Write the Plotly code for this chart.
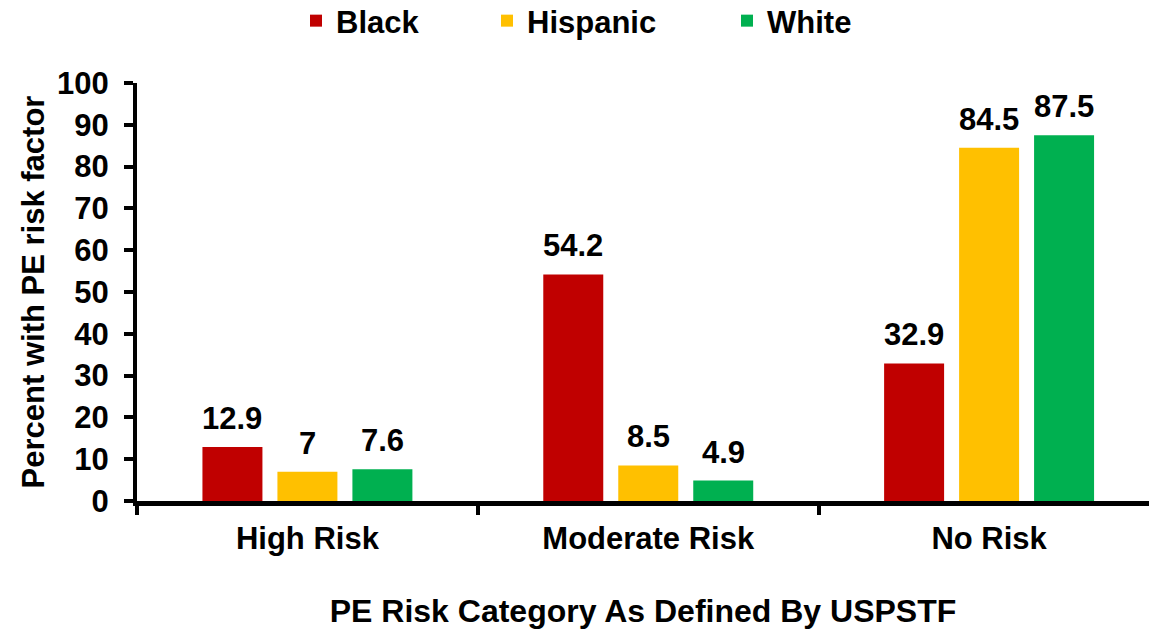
import plotly.graph_objects as go

# Share of patients with a preeclampsia (PE) risk factor, by race
categories = ["High Risk", "Moderate Risk", "No Risk"]
black = [12.9, 54.2, 32.9]
hispanic = [7.0, 8.5, 84.5]
white = [7.6, 4.9, 87.5]
series_names = ["Black", "Hispanic", "White"]
y_ticks = [0, 10, 20, 30, 40, 50, 60, 70, 80, 90, 100]

colors = ["#C00000", "#FFC000", "#00B050"]
FONT = "Liberation Sans, Arial, sans-serif"

W, H = 1149, 633
L, R, T, B = 137, 0, 83, 132
plot_w = W - L - R
plot_h = H - T - B

BARGAP = 0.34
BARGROUPGAP = 0.2
slot = (1 - BARGAP) / 3

fig = go.Figure()
legend_left_px = [296, 487, 727]
for i, (name, vals) in enumerate(zip(series_names, [black, hispanic, white])):
    lg = "legend" if i == 0 else f"legend{i + 1}"
    fig.add_trace(go.Bar(
        x=categories, y=vals, name=name,
        marker=dict(color=colors[i], line=dict(width=0)),
        legend=lg,
    ))
    # value labels above each bar
    offset = (i - 1) * slot
    for j, v in enumerate(vals):
        fig.add_annotation(
            x=j + offset, y=v, xref="x", yref="y",
            text=f"{v:g}", showarrow=False,
            yanchor="bottom", yshift=9,
            font=dict(family=FONT, size=31, color="black", weight="bold"),
        )

legend_common = dict(
    orientation="h", yanchor="middle", xanchor="left",
    bgcolor="rgba(0,0,0,0)", borderwidth=0,
    font=dict(family=FONT, size=31, color="black", weight="bold"),
)
y_leg = (H - B - 21) / plot_h
layout_legends = {}
for i, px in enumerate(legend_left_px):
    key = "legend" if i == 0 else f"legend{i + 1}"
    layout_legends[key] = dict(x=(px - L) / plot_w, y=y_leg, **legend_common)

fig.update_layout(
    width=W, height=H,
    margin=dict(l=L, r=R, t=T, b=B, autoexpand=False),
    paper_bgcolor="white", plot_bgcolor="white",
    barmode="group", bargap=BARGAP, bargroupgap=BARGROUPGAP,
    showlegend=True,
    font=dict(family=FONT, color="black"),
    **layout_legends,
)

fig.update_xaxes(
    type="category",
    range=[-0.5, 2.5 - 10.5 / 340.5],
    showline=True, linecolor="black", linewidth=5,
    ticks="outside", tickson="boundaries", ticklen=9, tickwidth=4, tickcolor="black",
    showgrid=False, zeroline=False,
    tickfont=dict(family=FONT, size=31, color="black", weight="bold"),
    ticklabelstandoff=6,
    title=dict(text="PE Risk Category As Defined By USPSTF", standoff=46,
               font=dict(family=FONT, size=32, color="black", weight="bold")),
    automargin=False,
)
fig.update_yaxes(
    range=[0, 100], tickvals=y_ticks, ticktext=[str(t) for t in y_ticks],
    showline=True, linecolor="black", linewidth=4,
    ticks="outside", ticklen=9, tickwidth=4, tickcolor="black",
    showgrid=False, zeroline=False,
    tickfont=dict(family=FONT, size=31, color="black", weight="bold"),
    ticklabelstandoff=9,
    title=dict(text="Percent with PE risk factor", standoff=4,
               font=dict(family=FONT, size=31, color="black", weight="bold")),
    automargin=False,
)

fig.write_html("out.html")
